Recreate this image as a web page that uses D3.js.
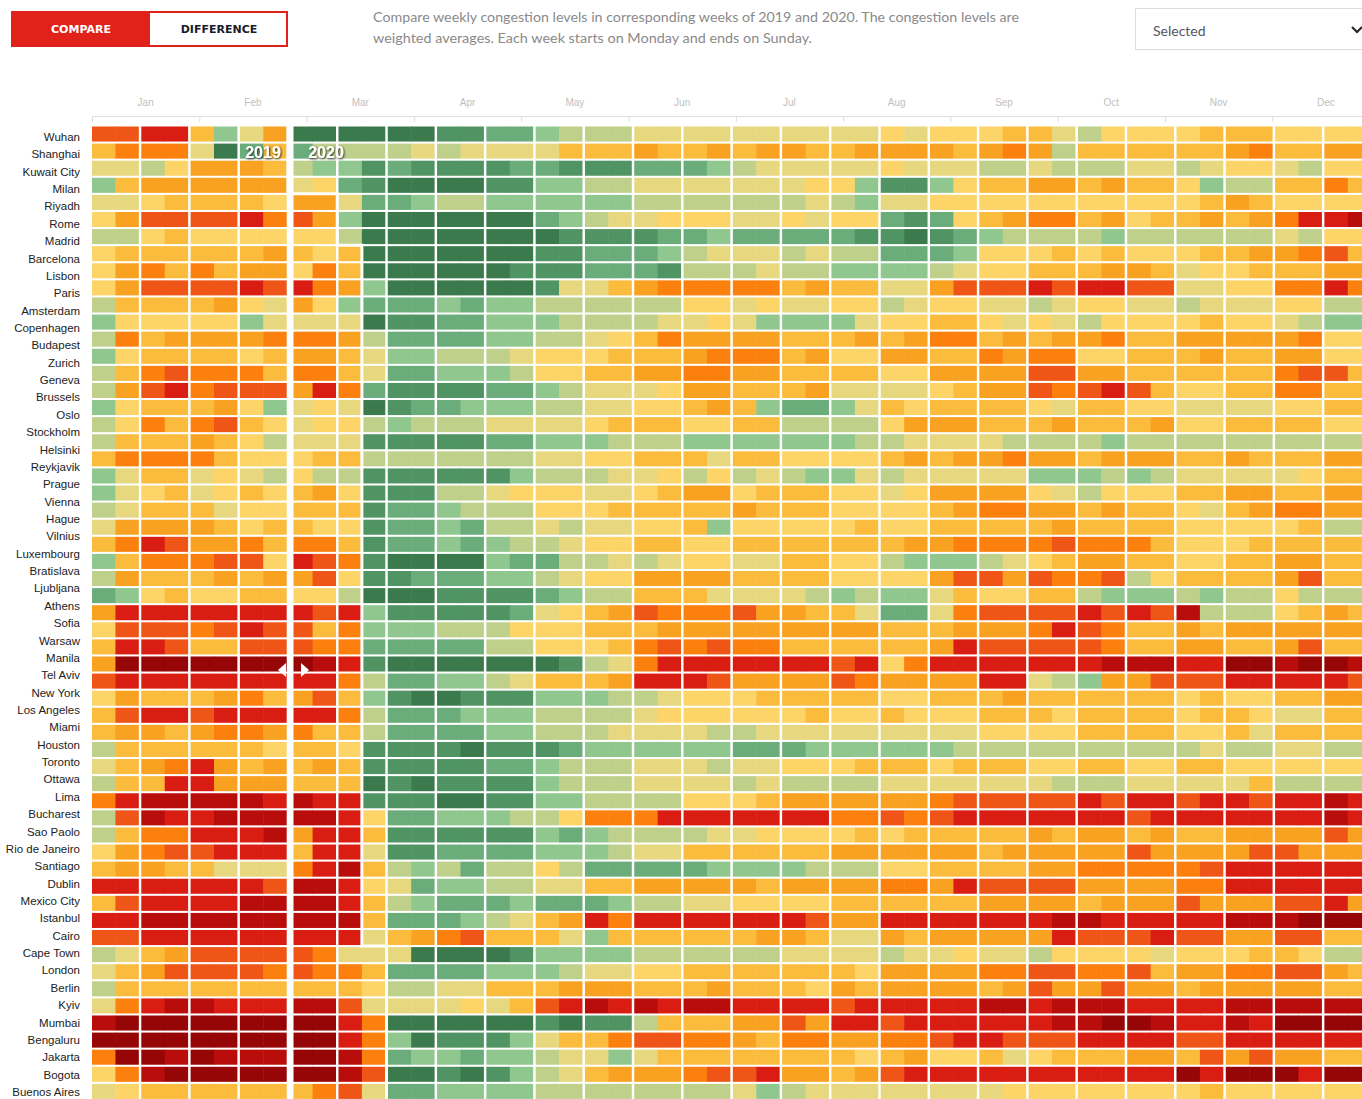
<!DOCTYPE html>
<html>
<head>
<meta charset="utf-8">
<script src="https://cdn.jsdelivr.net/npm/d3@7"></script>
<style>
  body { margin: 0; background: #fff; overflow: hidden; }
  svg text { font-family: "Liberation Sans", Arial, sans-serif; }
</style>
</head>
<body>
<svg id="chart" width="1362" height="1099"></svg>
<script>
// city labels, top to bottom
var cities = ["Wuhan", "Shanghai", "Kuwait City", "Milan", "Riyadh", "Rome", "Madrid", "Barcelona",
  "Lisbon", "Paris", "Amsterdam", "Copenhagen", "Budapest", "Zurich", "Geneva", "Brussels", "Oslo",
  "Stockholm", "Helsinki", "Reykjavik", "Prague", "Vienna", "Hague", "Vilnius", "Luxembourg",
  "Bratislava", "Ljubljana", "Athens", "Sofia", "Warsaw", "Manila", "Tel Aviv", "New York",
  "Los Angeles", "Miami", "Houston", "Toronto", "Ottawa", "Lima", "Bucharest", "Sao Paolo",
  "Rio de Janeiro", "Santiago", "Dublin", "Mexico City", "Istanbul", "Cairo", "Cape Town", "London",
  "Berlin", "Kyiv", "Mumbai", "Bengaluru", "Jakarta", "Bogota", "Buenos Aires"];

var months = ["Jan", "Feb", "Mar", "Apr", "May", "Jun", "Jul", "Aug", "Sep", "Oct", "Nov", "Dec"];

// weekly congestion class per row (0 = lowest ... d = highest), two weeks per group
// the last row is cut by the bottom of the page
var levels = [
  "aa bb 73 58 00 00 00 11 22 34 44 55 55 55 55 55 65 66 67 75 46 66 67 77 66 66",
  "79 99 50 27 24 44 45 45 55 57 77 87 78 78 87 78 88 87 89 84 77 77 77 89 77 88",
  "55 46 88 87 43 31 21 11 12 21 11 22 23 45 55 55 65 55 44 54 44 55 45 66 54 66",
  "37 88 88 88 56 21 00 00 11 33 44 55 55 55 56 63 11 36 77 88 78 77 63 44 77 97",
  "55 67 77 76 88 52 23 44 33 33 33 44 44 44 45 43 55 66 66 66 66 66 67 87 66 66",
  "68 aa aa b9 a8 30 00 00 00 23 45 56 66 55 65 66 21 26 78 99 78 67 78 78 9b bc",
  "44 67 66 66 66 40 00 00 00 01 11 12 23 22 22 21 10 12 34 44 43 44 44 44 54 66",
  "67 77 77 78 76 70 00 00 00 11 22 23 45 55 45 44 22 23 66 67 67 66 67 78 89 a7",
  "68 97 97 88 69 70 00 00 01 11 22 21 44 45 44 33 33 45 66 77 78 87 56 67 77 88",
  "68 aa aa ba b9 83 00 00 00 15 57 89 99 99 78 77 55 8a aa ba bb aa 55 66 99 b9",
  "47 77 78 65 86 32 22 32 33 44 44 44 66 56 55 66 45 66 55 45 66 55 45 55 66 44",
  "36 66 66 35 55 50 11 22 33 34 44 45 56 53 33 35 66 77 65 65 46 66 67 66 54 33",
  "49 78 88 89 99 84 22 22 33 44 56 79 88 88 77 78 78 99 78 78 89 77 88 88 89 66",
  "36 77 77 67 88 75 33 44 45 66 67 77 89 99 78 66 88 77 98 99 66 77 78 77 88 66",
  "47 9a 99 97 99 75 22 33 34 66 77 88 99 88 77 77 66 88 88 aa 88 77 77 77 9a a7",
  "48 ab 9a aa 8b 92 11 11 22 34 55 56 88 77 78 55 55 67 88 a9 ab a7 66 77 99 77",
  "36 77 78 63 56 50 12 23 33 44 55 66 78 73 22 35 76 77 77 65 77 66 55 55 66 77",
  "46 97 9a 76 56 64 34 44 55 55 67 77 66 77 44 44 68 88 77 78 77 78 66 77 77 66",
  "47 77 87 64 55 51 11 11 22 33 34 44 33 33 33 34 45 55 54 44 43 44 44 44 44 44",
  "79 99 97 66 67 74 44 44 44 55 66 77 75 77 66 66 78 78 89 88 78 88 77 87 77 88",
  "35 77 56 54 64 41 11 11 13 44 45 56 46 45 43 35 45 55 55 33 34 34 55 55 56 77",
  "35 67 56 76 78 61 11 44 56 66 55 67 88 67 77 66 56 88 88 65 46 66 77 88 77 88",
  "45 77 75 66 77 71 22 34 44 66 67 77 77 87 77 66 66 78 99 88 78 77 65 78 99 88",
  "58 88 87 67 76 61 22 32 44 54 55 66 73 66 66 67 66 77 77 78 77 77 66 66 67 44",
  "79 ba 88 97 99 71 22 32 34 45 66 77 66 77 77 77 78 89 99 9a 99 97 66 67 77 77",
  "37 99 9a a6 ba 91 00 00 32 24 45 45 66 55 77 66 43 33 45 67 88 77 66 77 88 77",
  "48 77 78 78 8a 61 12 22 33 45 66 88 88 77 77 66 66 8a a8 a9 9a 46 77 77 8a 77",
  "23 67 66 77 66 40 00 11 11 23 44 77 75 55 54 34 33 57 66 77 43 33 43 44 64 44",
  "8b bb bb bb ba b3 11 11 12 56 78 a9 99 a8 87 75 22 59 aa aa ba ba c4 44 67 87",
  "6a aa 9a ba a7 93 33 44 46 66 77 78 88 88 88 88 77 78 88 9b a9 77 87 88 88 88",
  "7b ba 77 aa a9 92 22 22 44 66 67 9a 9a 99 77 77 77 8b aa aa a9 77 88 77 8a 77",
  "8d dd dd dd dc b1 00 00 00 01 45 9b bb bb bb ab 69 bb bb bb bc cc bb dd cd dc",
  "ab bb bb bb bb 94 22 33 45 77 78 bb ba 88 88 a9 88 88 bb 54 38 8a aa bb bb ba",
  "68 77 78 97 8a 73 10 01 11 33 34 45 66 67 77 77 66 77 78 77 77 77 67 66 77 88",
  "7a bb ab bb bb 94 22 23 33 44 44 56 66 66 67 66 76 66 77 76 77 77 67 76 55 77",
  "78 87 89 98 97 74 22 22 33 44 45 55 54 45 55 55 55 55 66 66 77 77 66 75 77 77",
  "47 77 77 76 77 61 11 10 11 12 33 33 33 22 23 33 33 34 44 44 44 44 45 44 55 44",
  "57 89 b8 78 78 71 11 11 22 34 44 55 54 55 66 67 77 67 77 66 77 66 77 66 66 66",
  "47 7b b8 88 77 70 10 11 11 34 44 55 55 45 44 44 55 55 55 54 44 55 55 57 44 44",
  "9b cc cc cb cb b1 11 00 11 33 44 44 66 67 88 88 88 9a aa aa ba bb ab ba bb cb",
  "4a cb bc cc cc b6 22 33 34 46 99 9b bb bb bb 99 a9 ab bb bb bb ab bb bb bb cb",
  "47 99 bb bc 8b b7 11 11 11 32 34 44 45 56 66 67 67 77 77 87 88 78 77 88 88 a8",
  "68 9a ab bb 7b b5 11 22 22 33 34 55 77 77 77 88 88 88 78 88 88 a8 88 8a a8 88",
  "78 87 75 55 9b c7 43 42 44 64 22 22 23 33 34 44 66 77 77 88 99 99 9a bb bb bb",
  "bb bb bb ba cc b6 52 33 44 55 77 88 88 87 88 88 99 8b aa aa 88 88 99 bb bb bb",
  "7a bb bb cc cc b7 43 22 23 22 23 44 55 66 66 77 77 77 88 88 78 88 a8 88 aa b8",
  "bb cc cc cc cc c7 22 23 45 78 b9 bb bb bb ba 88 bb bb bb bc cb bb bb cc cd dd",
  "aa bb bb bb bb b5 78 9a 77 75 37 77 77 78 87 55 87 88 88 8b aa ab aa 88 aa 77",
  "45 78 aa aa a9 55 50 00 01 33 33 44 44 44 55 55 45 56 55 46 66 65 66 67 76 44",
  "57 8a aa a9 a9 97 22 22 33 34 55 66 77 77 77 76 88 88 99 aa 99 a7 88 99 aa 87",
  "47 77 77 77 77 76 44 55 77 78 88 77 78 77 76 87 88 88 78 a8 8a 88 78 88 88 77",
  "59 bc cb bb cc a5 55 56 57 ab cb cb cc bb bb ab bb bb cc bc cc bb bb cc cc cc",
  "cd dd dd dd dd b9 00 00 00 10 11 47 77 88 a8 bb ab bb bb bc cd dc bb cb dd dd",
  "dd dd dd dd dd b9 30 11 13 57 79 aa 99 87 99 88 99 ab ba aa bb bb aa bb bb bb",
  "9d dc dc cc dd c9 23 32 33 45 53 57 77 77 77 76 78 66 75 67 77 88 7a 8a 88 77",
  "69 cd dd dd dd ca 00 10 13 45 78 88 9a ab 88 78 ab bb bb bb bb bb db dd db dd",
  "56 77 77 77 79 a5 22 33 33 44 44 44 44 53 45 55 55 55 56 66 66 66 67 66 66 66"
];

// week in which the 2020 part starts for each row
var startWeek = [8, 8, 8, 8, 10, 10, 10,
  11, 11, 11, 11, 11, 11, 11, 11, 11, 11, 11, 11, 11, 11, 11, 11, 11, 11, 11, 11, 11, 11, 11, 11,
  11, 11, 11, 11, 11, 11, 11, 11, 11, 11, 11, 11, 11, 11, 11, 11, 11,
  12, 12, 12, 12, 12, 12, 12, 12, 12];

var palette = ["#3a7a4c", "#4f9462", "#6aad7b", "#8fc78f", "#bfd08b", "#e7d87f", "#fdd468",
  "#fbbb3c", "#f9a121", "#fb800e", "#ee5517", "#da1d12", "#b90d0b", "#960606"];

var svg = d3.select("#chart");

// ---- header: toggle buttons, note, dropdown
svg.append("rect").attr("x", 12).attr("y", 12).attr("width", 275).attr("height", 34)
  .attr("fill", "#fff").attr("stroke", "#e0221b").attr("stroke-width", 2);
svg.append("rect").attr("x", 12).attr("y", 12).attr("width", 138).attr("height", 34)
  .attr("fill", "#e0221b");
svg.append("text").attr("x", 81).attr("y", 33).attr("text-anchor", "middle")
  .style("font-family", "'DejaVu Sans', sans-serif").style("font-weight", "bold")
  .style("font-size", "11px").attr("fill", "#fff").text("COMPARE");
svg.append("text").attr("x", 219).attr("y", 33).attr("text-anchor", "middle")
  .style("font-family", "'DejaVu Sans', sans-serif").style("font-weight", "bold")
  .style("font-size", "11px").attr("fill", "#1b1b2b").text("DIFFERENCE");

var note = ["Compare weekly congestion levels in corresponding weeks of 2019 and 2020. The congestion levels are",
  "weighted averages. Each week starts on Monday and ends on Sunday."];
var noteW = [646, 439];
svg.selectAll(".note").data(note).enter().append("text")
  .attr("class", "note")
  .attr("x", 373).attr("y", function(d, i) { return 22 + i * 21; })
  .attr("textLength", function(d, i) { return noteW[i]; })
  .attr("lengthAdjust", "spacingAndGlyphs")
  .style("font-family", "Lato, sans-serif").style("font-size", "13px")
  .attr("fill", "#8a8a8a").text(function(d) { return d; });

svg.append("rect").attr("x", 1135.5).attr("y", 8.5).attr("width", 240).attr("height", 41)
  .attr("fill", "#fff").attr("stroke", "#dcdcdc");
svg.append("text").attr("x", 1153).attr("y", 36)
  .style("font-family", "Lato, sans-serif").style("font-size", "14px")
  .attr("fill", "#555566").text("Selected");
svg.append("path").attr("d", "M1352,27 L1357,32 L1362,27").attr("fill", "none")
  .attr("stroke", "#222").attr("stroke-width", 2);

// ---- scales
var nWeeks = 52;
var xPair = d3.scaleBand().domain(d3.range(nWeeks / 2)).range([92, 92 + 26 * 49.2]).paddingInner(0.05);
var half = xPair.bandwidth() / 2;
function weekX(w) { return xPair(Math.floor(w / 2)) + (w % 2) * half; }
function weekEdge(w) {
  if (w % 2 === 1) return xPair((w - 1) / 2) + half;
  return xPair(w / 2) - (xPair.step() - xPair.bandwidth()) / 2;
}

var y = d3.scaleBand().domain(d3.range(levels.length))
  .range([126.5, 126.5 + levels.length * 17.06]).paddingInner(0.12);

var yLabel = d3.scalePoint().domain(cities).range([137, 137 + 55 * 17.364]);

var xMonth = d3.scaleBand().domain(months).range([92, 92 + 12 * 107.3]);

var color = d3.scaleOrdinal().domain(d3.range(14)).range(palette);

// ---- month axis
var axis = svg.append("g");
axis.append("line").attr("x1", 92).attr("x2", 1362).attr("y1", 116.5).attr("y2", 116.5)
  .attr("stroke", "#dedede");
axis.selectAll(".tick").data(months).enter().append("line")
  .attr("x1", function(d) { return xMonth(d) + 0.5; }).attr("x2", function(d) { return xMonth(d) + 0.5; })
  .attr("y1", 116.5).attr("y2", 122).attr("stroke", "#dedede");
axis.selectAll(".mlab").data(months).enter().append("text")
  .attr("x", function(d) { return xMonth(d) + xMonth.bandwidth() / 2; })
  .attr("y", 106).attr("text-anchor", "middle")
  .style("font-size", "10px").attr("fill", "#c0c0c0").text(function(d) { return d; });

// ---- cells
var cells = [];
levels.forEach(function(row, r) {
  var s = row.replace(/ /g, "");
  for (var w = 0; w < s.length; w++) cells.push({ row: r, week: w, v: parseInt(s[w], 16) });
});

svg.append("g").selectAll("rect").data(cells).enter().append("rect")
  .attr("x", function(d) { return weekX(d.week); })
  .attr("y", function(d) { return y(d.row); })
  .attr("width", function(d) { return d.week % 2 === 0 ? half + 0.5 : half; })
  .attr("height", y.bandwidth())
  .attr("fill", function(d) { return color(d.v); });

// ---- city labels
svg.append("g").selectAll("text").data(cities).enter().append("text")
  .attr("x", 80).attr("y", function(d) { return yLabel(d) + 4; })
  .attr("text-anchor", "end").style("font-size", "11.5px").attr("fill", "#222")
  .text(function(d) { return d; });

// ---- step line where the 2020 part starts
var gapY = y.step() - y.bandwidth();
var pts = [];
startWeek.forEach(function(w, r) {
  var xx = weekEdge(w);
  var top = r === 0 ? y(0) : y(r) - gapY / 2;
  pts.push([xx, top]);
  pts.push([xx, y(r) + y.bandwidth() + gapY / 2]);
});
svg.append("path").attr("d", d3.line()(pts)).attr("fill", "none")
  .attr("stroke", "#fff").attr("stroke-width", 3);

// ---- compare slider
var sx = 291;
svg.append("rect").attr("x", sx - 2).attr("y", 118).attr("width", 4.5).attr("height", 990)
  .attr("fill", "#fff");
svg.append("path").attr("d", "M278,670 L286,663 L286,677 Z").attr("fill", "#fff");
svg.append("path").attr("d", "M309,670 L301,663 L301,677 Z").attr("fill", "#fff");

var defs = svg.append("defs");
var f = defs.append("filter").attr("id", "shadow").attr("x", "-20%").attr("y", "-40%")
  .attr("width", "140%").attr("height", "180%");
f.append("feDropShadow").attr("dx", 1).attr("dy", 1).attr("stdDeviation", 1.2)
  .attr("flood-color", "#000").attr("flood-opacity", 0.8);

svg.selectAll(".yr").data(["2019", "2020"]).enter().append("text")
  .attr("class", "yr")
  .attr("x", function(d, i) { return i === 0 ? 263 : 326; })
  .attr("y", 158).attr("text-anchor", "middle")
  .style("font-size", "16px").style("font-weight", "bold").attr("fill", "#fff")
  .attr("filter", "url(#shadow)").text(function(d) { return d; });
</script>
</body>
</html>
